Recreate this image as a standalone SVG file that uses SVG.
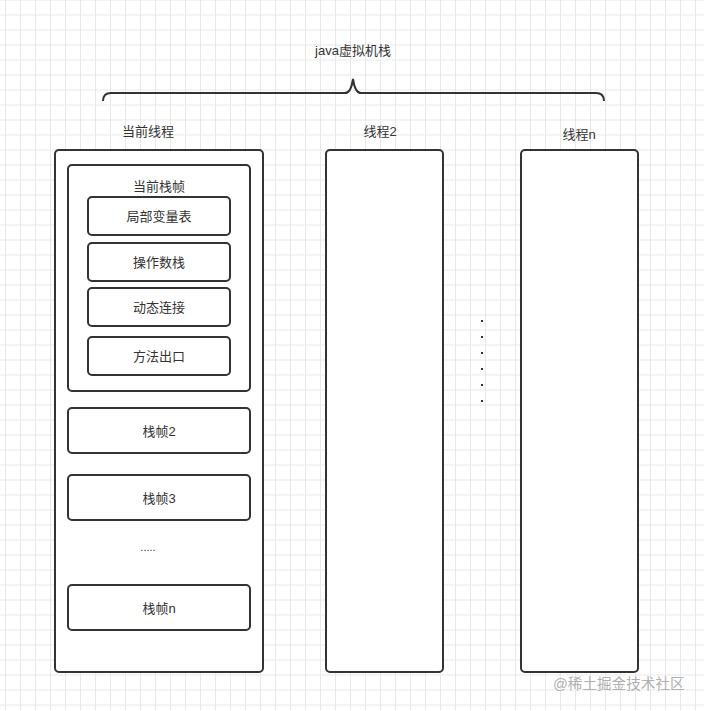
<svg xmlns="http://www.w3.org/2000/svg" width="704" height="711" viewBox="0 0 704 711">
<defs>
<pattern id="grid" x="5" y="0" width="15" height="15" patternUnits="userSpaceOnUse">
<path d="M0.5 0 V15 M0 0.5 H15" fill="none" stroke="#e8e8e8" stroke-width="1"/>
</pattern>
</defs>
<style>
.box{fill:#fff;stroke:#333;stroke-width:2}
.t{font-family:"Liberation Sans","Noto Sans CJK SC",sans-serif;font-size:13px;fill:#333;text-anchor:middle;dominant-baseline:central}
.wm{font-family:"Liberation Sans","Noto Sans CJK SC",sans-serif;font-size:14.6px;fill:#b0b0b0}
</style>
<rect width="704" height="711" fill="#fff"/>
<rect x="0" y="0" width="704" height="711" fill="url(#grid)" transform="translate(0,-0.5)"/>
<g id="connectors">
<path d="M103 101 Q103 93 111 93 H345 Q351 93 353 79 Q355 93 361 93 H596 Q604 93 604 101" fill="none" stroke="#333" stroke-width="2"/>
</g>
<g id="title"><text class="t" x="353" y="50">java虚拟机栈</text></g>
<g id="thread1">
<text class="t" x="148" y="131">当前线程</text>
<rect class="box" x="55" y="150" width="208" height="522" rx="4"/>
</g>
<g id="frame-current">
<rect class="box" x="68" y="165" width="182" height="226" rx="4"/>
<text class="t" x="159" y="186">当前栈帧</text>
</g>
<g id="local-vars"><rect class="box" x="88" y="197" width="142" height="38" rx="4"/><text class="t" x="159" y="216">局部变量表</text></g>
<g id="operand-stack"><rect class="box" x="88" y="243" width="142" height="38" rx="4"/><text class="t" x="159" y="262">操作数栈</text></g>
<g id="dynamic-link"><rect class="box" x="88" y="288" width="142" height="38" rx="4"/><text class="t" x="159" y="307">动态连接</text></g>
<g id="method-exit"><rect class="box" x="88" y="337" width="142" height="38" rx="4"/><text class="t" x="159" y="356">方法出口</text></g>
<g id="frame2"><rect class="box" x="68" y="408" width="182" height="45" rx="4"/><text class="t" x="159" y="431">栈帧2</text></g>
<g id="frame3"><rect class="box" x="68" y="475" width="182" height="45" rx="4"/><text class="t" x="159" y="498">栈帧3</text></g>
<g id="ellipsis"><text class="t" x="148" y="547" style="font-size:11px">.....</text></g>
<g id="framen"><rect class="box" x="68" y="585" width="182" height="45" rx="4"/><text class="t" x="159" y="608">栈帧n</text></g>
<g id="thread2">
<text class="t" x="380" y="131">线程2</text>
<rect class="box" x="326" y="150" width="117" height="522" rx="4"/>
</g>
<g id="dots" fill="#333">
<rect x="481" y="320" width="2" height="2"/>
<rect x="481" y="336" width="2" height="2"/>
<rect x="481" y="352" width="2" height="2"/>
<rect x="481" y="368" width="2" height="2"/>
<rect x="481" y="384" width="2" height="2"/>
<rect x="481" y="400" width="2" height="2"/>
</g>
<g id="threadn">
<text class="t" x="579" y="134">线程n</text>
<rect class="box" x="521" y="150" width="117" height="522" rx="4"/>
</g>
<text class="wm" x="553" y="689">@稀土掘金技术社区</text>
</svg>
